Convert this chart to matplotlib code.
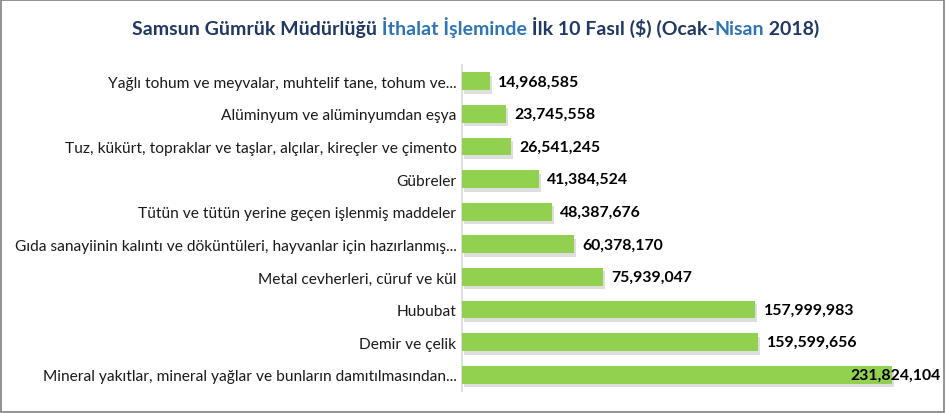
import matplotlib
matplotlib.use('Agg')
import matplotlib.pyplot as plt
import matplotlib.patheffects as pe
from matplotlib.patches import Rectangle

# Data (top to bottom as in the chart)
categories = [
    "Yağlı tohum ve meyvalar, muhtelif tane, tohum ve...",
    "Alüminyum ve alüminyumdan eşya",
    "Tuz, kükürt, topraklar ve taşlar, alçılar, kireçler ve çimento",
    "Gübreler",
    "Tütün ve tütün yerine geçen işlenmiş maddeler",
    "Gıda sanayiinin kalıntı ve döküntüleri, hayvanlar için hazırlanmış...",
    "Metal cevherleri, cüruf ve kül",
    "Hububat",
    "Demir ve çelik",
    "Mineral yakıtlar, mineral yağlar ve bunların damıtılmasından...",
]
values = [14968585, 23745558, 26541245, 41384524, 48387676,
          60378170, 75939047, 157999983, 159599656, 231824104]

NAVY = "#1F3864"
BLUE = "#2E75B6"
GREEN = "#92D050"

plt.rcParams['font.family'] = ['Lato', 'DejaVu Sans']

fig = plt.figure(figsize=(9.46, 4.14), dpi=100)
ax = fig.add_axes([462 / 946, 1 - 392 / 414, (926 - 462) / 946, (392 - 66) / 414])

ypos = list(range(len(categories)))
bars = ax.barh(ypos, values, height=0.55, color=GREEN, zorder=3)
for b in bars:
    b.set_path_effects([pe.SimplePatchShadow(offset=(1.5, -2.5), shadow_rgbFace='#7f7f7f', alpha=0.25),
                        pe.Normal()])

ax.set_xlim(0, 250e6)
ax.set_ylim(len(categories) - 0.5, -0.5)
ax.set_yticks(ypos)
ax.set_yticklabels(categories, fontsize=11.2, color='#1a1a1a')
ax.set_xticks([])
ax.tick_params(axis='y', length=0, pad=4)
for s in ['top', 'right', 'bottom']:
    ax.spines[s].set_visible(False)
ax.spines['left'].set_color('#D9D9D9')
ax.spines['left'].set_linewidth(1.2)

for i, v in enumerate(values):
    if i == len(values) - 1:
        ax.text(v + 2e6, i, f"{v:,}", ha='center', va='center', fontsize=11.4,
                fontweight='bold', color='black', zorder=5, clip_on=False)
    else:
        ax.text(v + 4.5e6, i, f"{v:,}", ha='left', va='center', fontsize=11.4,
                fontweight='bold', color='black', zorder=5)

# Multi-colour title, pieces chained one after another
parts = [("Samsun Gümrük Müdürlüğü", NAVY), (" İthalat İşleminde", BLUE),
         (" İlk 10 Fasıl ($) (Ocak-", NAVY), ("Nisan", BLUE), (" 2018)", NAVY)]
title_y = 1 - 35 / 414
pieces = []
for s, c in parts:
    t = fig.text(0, title_y, s, color=c, fontsize=14, fontweight='bold',
                 va='baseline', ha='left')
    pieces.append(t)

renderer = fig.canvas.get_renderer()
widths = []
for t in pieces:
    txt = t.get_text()
    # measure between two bars so leading spaces count
    t.set_text("|" + txt + "|")
    w_full = t.get_window_extent(renderer=renderer).width
    t.set_text("||")
    w_bars = t.get_window_extent(renderer=renderer).width
    t.set_text(txt)
    widths.append(w_full - w_bars)
total = sum(widths)
x0 = 476 - total / 2
for t, w in zip(pieces, widths):
    t.set_x(x0 / 946)
    x0 += w

# Figure border
fig.patches.append(Rectangle((0.001, 0.002), 0.997, 0.995, transform=fig.transFigure,
                             fill=False, edgecolor='#7F7F7F', linewidth=1.2))

fig.savefig('out.png', dpi=100, facecolor='white')
